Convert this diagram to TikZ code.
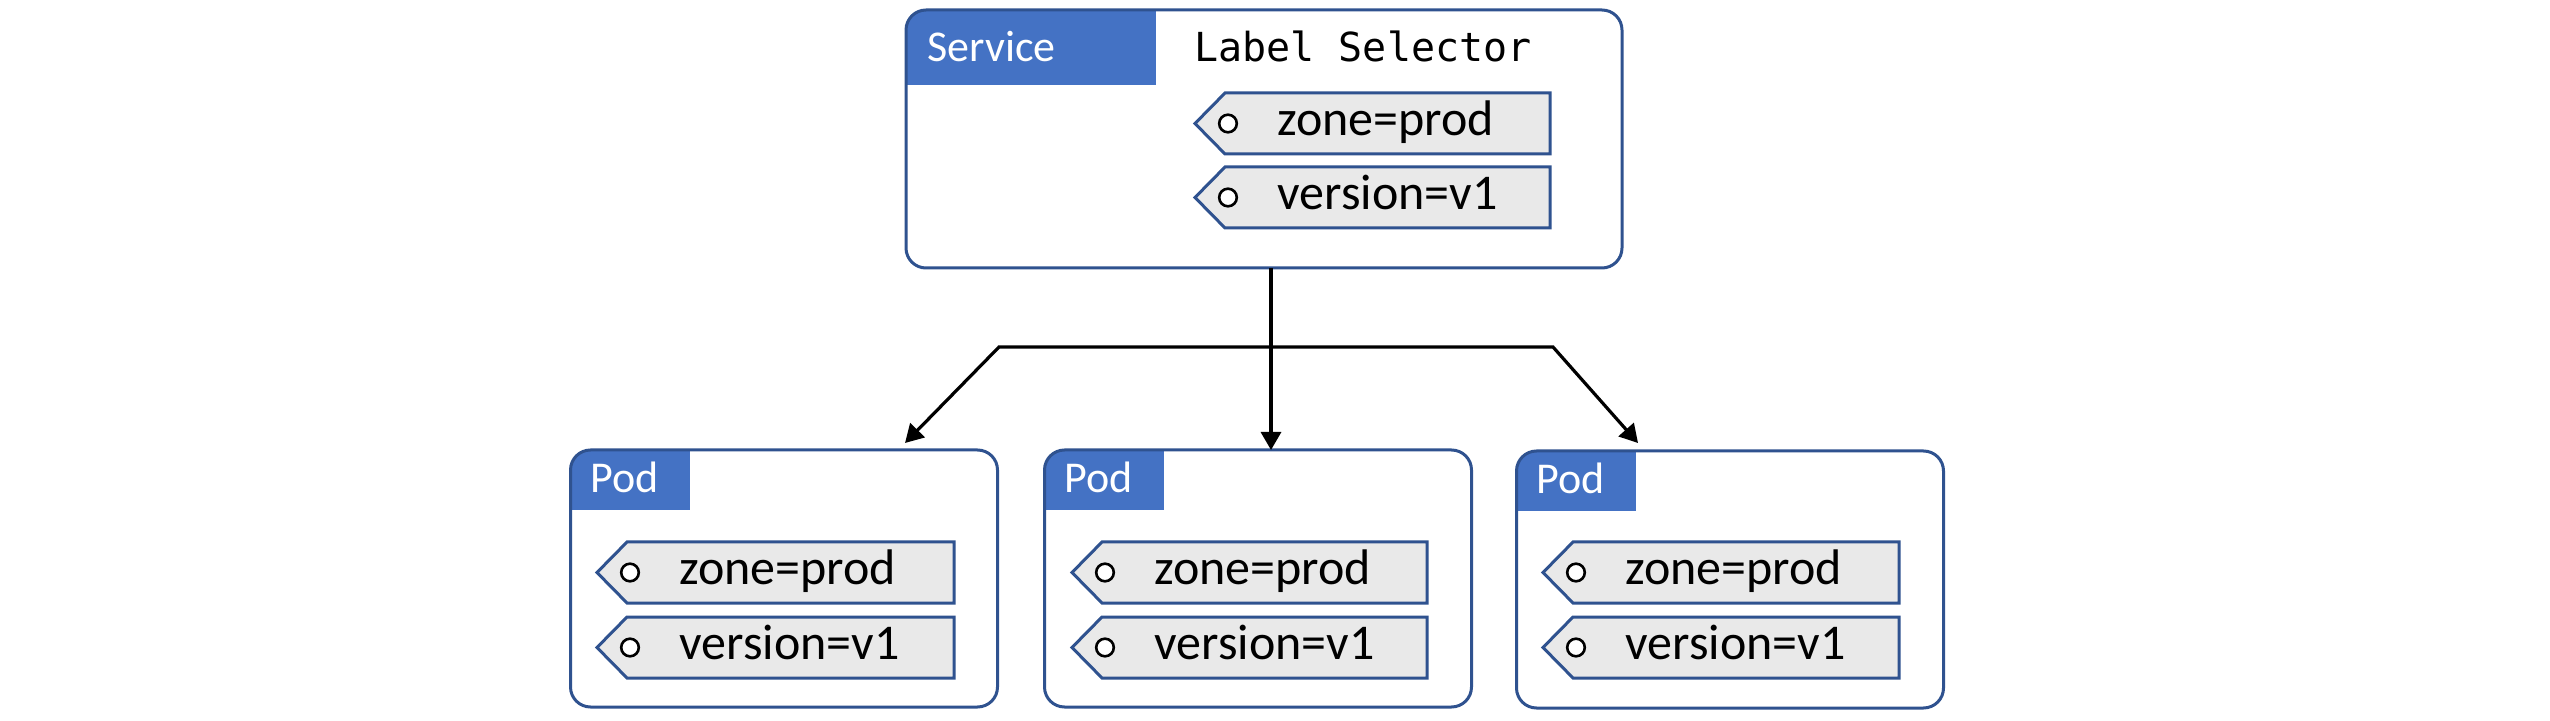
\documentclass[tikz,border=0pt]{standalone}
\usepackage{fontspec}
\setmainfont{Carlito}
\newfontfamily\monofont{DejaVu Sans Mono}
\usetikzlibrary{arrows.meta,calc}
\definecolor{hdrblue}{HTML}{4472C4}
\definecolor{edgeblue}{HTML}{2F528F}
\definecolor{taggray}{HTML}{E9E9E9}
\tikzset{
  boxnode/.style={inner sep=0pt, outer sep=0pt, draw=none, fill=white},
  boxframe/.style={draw=edgeblue, line width=1.5pt, rounded corners=10pt},
  hdrfill/.style={fill=hdrblue},
  hdrtext/.style={text=white, font=\fontsize{22}{26}\selectfont, anchor=base west, inner sep=0pt},
  tagline/.style={draw=edgeblue, fill=taggray, line width=1.5pt, line join=miter},
  tagdot/.style={draw=black, fill=white, line width=1.3pt},
  tagtext/.style={font=\fontsize{25}{30}\selectfont, anchor=base west, inner sep=0pt},
  seltext/.style={font=\monofont\fontsize{20}{24}\selectfont, anchor=base west, inner sep=0pt},
  conn/.style={line width=1.6pt, draw=black, line join=miter},
  tipA/.tip={Triangle[length=9pt,width=10pt]},
}
% name, tip x, top y, right x, text
\newcommand{\ktag}[5]{%
  \draw[tagline] (#2,#3+30.5) -- (#2+30,#3) -- (#4,#3) -- (#4,#3+61) -- (#2+30,#3+61) -- cycle;
  \draw[tagdot] (#2+33,#3+30.5) circle[radius=4.4pt];
  \node[tagtext] (#1) at (#2+82,#3+43) {#5};
}
% box name, header width, header height
\newcommand{\kheader}[3]{%
  \begin{scope}
    \clip[rounded corners=10pt] (#1.north west) rectangle (#1.south east);
    \fill[hdrfill] (#1.north west) rectangle ++(#2,#3);
  \end{scope}
  \draw[boxframe] (#1.north west) rectangle (#1.south east);
}
\begin{document}
\begin{tikzpicture}[x=0.5pt,y=-0.5pt]
\useasboundingbox (0,0) rectangle (2550,721);

% Service box
\node[boxnode, minimum width=358pt, minimum height=129pt] (svc) at (1264,139) {};
\kheader{svc}{250}{75}
\node[hdrtext] (svclbl) at ($(svc.north west)+(21,52)$) {Service};
\node[seltext] (sel) at (1194,62) {Label Selector};
\ktag{szone}{1195}{93}{1550}{zone=prod}
\ktag{sver}{1195}{167}{1550}{version=v1}

% Pods
\node[boxnode, minimum width=213.5pt, minimum height=128.5pt] (pod1) at (784,578.5) {};
\node[boxnode, minimum width=213.5pt, minimum height=128.5pt] (pod2) at (1258,578.5) {};
\node[boxnode, minimum width=213.5pt, minimum height=128.5pt] (pod3) at (1730,579.5) {};
\kheader{pod1}{119}{60}
\kheader{pod2}{119}{60}
\kheader{pod3}{119}{60}
\node[hdrtext] (p1lbl) at ($(pod1.north west)+(20,43)$) {Pod};
\node[hdrtext] (p2lbl) at ($(pod2.north west)+(20,43)$) {Pod};
\node[hdrtext] (p3lbl) at ($(pod3.north west)+(20,43)$) {Pod};

\ktag{p1zone}{597}{542}{954}{zone=prod}
\ktag{p1ver}{597}{617}{954}{version=v1}
\ktag{p2zone}{1072}{542}{1427}{zone=prod}
\ktag{p2ver}{1072}{617}{1427}{version=v1}
\ktag{p3zone}{1543}{542}{1899}{zone=prod}
\ktag{p3ver}{1543}{617}{1899}{version=v1}

% Connectors
\coordinate (m) at (1271,347);
\coordinate (j1) at (999,347);
\coordinate (j2) at (1553,347);
\coordinate (t1) at (905,443);
\coordinate (t3) at (1638,443);
\draw[conn, -tipA] (m |- svc.south) -- (m |- pod2.north);
\draw[conn, tipA-tipA] (t1) -- (j1) -- (j2) -- (t3);
\end{tikzpicture}
\end{document}
